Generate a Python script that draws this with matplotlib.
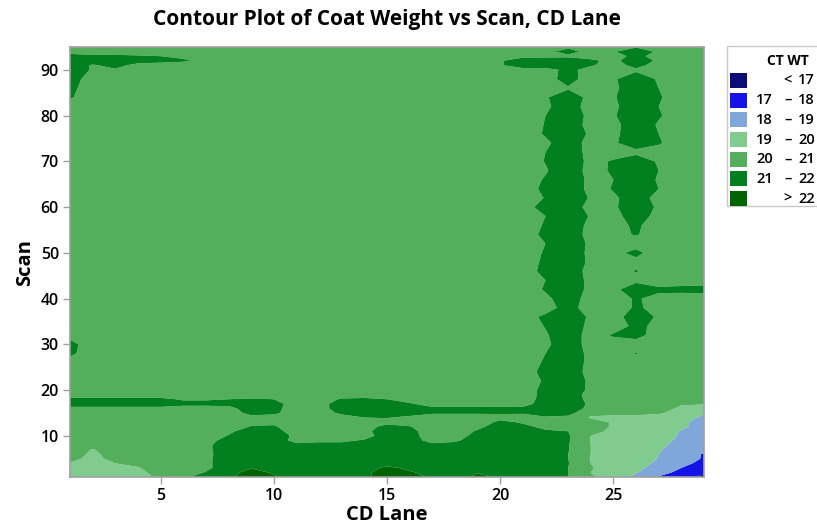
import numpy as np
import matplotlib
matplotlib.use("Agg")
import matplotlib.pyplot as plt
from matplotlib.patches import Rectangle

plt.rcParams['font.family'] = ['Open Sans', 'DejaVu Sans']

# -----------------------------
# Grid: CD lanes x scan rows
# -----------------------------
lanes = np.arange(1, 30)
scans = np.concatenate([np.arange(1, 21), np.arange(22, 91, 2), np.arange(91, 96)])

# scans 1..20, all 29 lanes
bottom_rows = [
    [19.4, 19.3, 19.5, 19.6, 20.2, 20.8, 21.5, 21.8, 22.5, 22.1, 21.7, 21.5, 21.6, 21.8, 22.5, 22.4, 21.8, 21.5, 22.3, 21.9, 21.6, 21.5, 21.0, 20.1, 19.6, 18.74, 17.92, 17.3, 16.8],
    [19.5, 19.4, 19.6, 19.8, 20.3, 20.5, 21.05, 21.7, 22.3, 21.9, 21.6, 21.5, 21.5, 21.8, 22.4, 22.1, 21.7, 21.5, 21.9, 21.7, 21.5, 21.5, 21.0, 20.0, 19.6, 19.05, 18.4, 17.7, 17.1],
    [19.7, 19.5, 19.8, 19.95, 20.4, 20.5, 20.8, 21.5, 21.95, 21.6, 21.5, 21.5, 21.5, 21.6, 22.2, 21.8, 21.5, 21.5, 21.6, 21.5, 21.5, 21.5, 21.0, 20.05, 19.7, 19.25, 18.6, 18.0, 17.5],
    [19.95, 19.6, 20.0, 20.2, 20.5, 20.5, 20.8, 21.5, 21.6, 21.5, 21.5, 21.5, 21.5, 21.5, 21.6, 21.5, 21.5, 21.5, 21.5, 21.5, 21.5, 21.5, 21.05, 20.0, 19.7, 19.4, 18.8, 18.3, 17.7],
    [20.3, 19.7, 20.3, 20.5, 20.5, 20.5, 20.8, 21.5, 21.5, 21.5, 21.5, 21.6, 21.5, 21.5, 21.5, 21.6, 21.5, 21.5, 21.5, 21.5, 21.5, 21.5, 21.0, 19.95, 19.6, 19.5, 18.95, 18.5, 17.9],
    [20.5, 19.8, 20.4, 20.5, 20.5, 20.5, 20.8, 21.4, 21.5, 21.5, 21.6, 21.5, 21.5, 21.5, 21.5, 21.5, 21.5, 21.5, 21.5, 21.5, 21.5, 21.5, 21.0, 20.0, 19.6, 19.5, 19.0, 18.6, 17.9],
    [20.5, 19.95, 20.5, 20.5, 20.5, 20.5, 20.8, 21.5, 21.5, 21.5, 21.5, 21.5, 21.5, 21.5, 21.5, 21.5, 21.5, 21.5, 21.5, 21.5, 21.5, 21.5, 21.05, 20.0, 19.6, 19.5, 19.05, 18.7, 18.4],
    [20.5, 20.3, 20.5, 20.5, 20.5, 20.5, 20.8, 21.5, 21.5, 21.5, 21.2, 21.3, 21.3, 21.5, 21.5, 21.5, 21.2, 21.2, 21.5, 21.5, 21.5, 21.5, 21.05, 20.0, 19.6, 19.5, 19.2, 18.7, 18.4],
    [20.5, 20.5, 20.5, 20.5, 20.5, 20.5, 20.6, 21.4, 21.5, 21.5, 20.7, 20.8, 20.8, 21.1, 21.5, 21.4, 20.7, 20.9, 21.3, 21.5, 21.5, 21.4, 21.1, 19.95, 19.6, 19.5, 19.3, 18.8, 18.5],
    [20.5, 20.5, 20.5, 20.5, 20.5, 20.5, 20.5, 21.05, 21.5, 21.5, 20.8, 20.5, 20.5, 20.6, 21.5, 21.3, 20.6, 20.6, 21.3, 21.5, 21.5, 21.3, 21.1, 20.0, 19.6, 19.5, 19.4, 18.9, 18.6],
    [20.5, 20.5, 20.5, 20.5, 20.5, 20.5, 20.5, 20.8, 21.5, 21.4, 20.5, 20.5, 20.5, 20.7, 21.6, 21.3, 20.5, 20.5, 21.1, 21.5, 21.4, 21.1, 21.0, 20.3, 19.8, 19.5, 19.4, 18.95, 18.7],
    [20.5, 20.5, 20.5, 20.5, 20.5, 20.5, 20.5, 20.5, 21.05, 21.1, 20.5, 20.5, 20.5, 20.6, 21.3, 21.05, 20.5, 20.5, 20.8, 21.4, 21.2, 20.8, 20.7, 20.4, 19.9, 19.6, 19.5, 19.1, 18.8],
    [20.5, 20.5, 20.5, 20.5, 20.5, 20.5, 20.5, 20.5, 20.8, 20.8, 20.5, 20.5, 20.5, 20.5, 20.7, 20.6, 20.5, 20.5, 20.5, 21.2, 20.9, 20.7, 20.6, 20.4, 19.9, 19.7, 19.6, 19.1, 18.8],
    [20.5, 20.5, 20.5, 20.5, 20.5, 20.5, 20.5, 20.5, 20.7, 20.6, 20.5, 20.5, 20.6, 21.0, 21.05, 20.8, 20.6, 20.6, 20.6, 20.7, 20.6, 20.9, 20.8, 19.9, 19.8, 19.8, 19.7, 19.2, 18.9],
    [20.5, 20.5, 20.5, 20.5, 20.5, 20.5, 20.5, 20.5, 21.3, 21.2, 20.5, 20.5, 21.2, 21.6, 21.5, 21.4, 21.1, 21.1, 21.1, 21.1, 21.1, 21.4, 21.3, 20.3, 20.2, 20.2, 20.1, 19.7, 19.05],
    [20.7, 20.7, 20.7, 20.7, 20.7, 20.6, 20.6, 20.7, 21.5, 21.3, 20.5, 20.6, 21.5, 21.6, 21.6, 21.4, 21.2, 21.2, 21.2, 21.2, 21.2, 21.5, 21.6, 20.7, 20.5, 20.5, 20.5, 19.8, 19.7],
    [21.6, 21.6, 21.6, 21.6, 21.6, 21.3, 21.3, 21.3, 21.5, 21.4, 20.5, 20.6, 21.5, 21.5, 21.4, 21.1, 20.6, 20.6, 20.6, 20.6, 20.6, 21.5, 21.7, 20.8, 20.5, 20.5, 20.5, 20.1, 20.05],
    [21.2, 21.2, 21.2, 21.2, 21.2, 20.9, 20.9, 21.0, 21.1, 21.0, 20.5, 20.5, 21.1, 21.2, 21.0, 20.6, 20.5, 20.5, 20.5, 20.5, 20.5, 21.4, 21.6, 20.7, 20.5, 20.5, 20.5, 20.5, 20.5],
    [20.5, 20.5, 20.5, 20.5, 20.5, 20.5, 20.5, 20.5, 20.5, 20.5, 20.5, 20.5, 20.5, 20.5, 20.5, 20.5, 20.5, 20.5, 20.5, 20.5, 20.5, 21.3, 21.6, 20.6, 20.5, 20.5, 20.5, 20.5, 20.5],
    [20.5, 20.5, 20.5, 20.5, 20.5, 20.5, 20.5, 20.5, 20.5, 20.5, 20.5, 20.5, 20.5, 20.5, 20.5, 20.5, 20.5, 20.5, 20.5, 20.5, 20.5, 21.3, 21.6, 20.8, 20.5, 20.5, 20.5, 20.5, 20.5],
]

# scans 22..90 (step 2): lanes 1, 2, 3 at the left edge
lane1_mid = [20.5, 20.5, 20.6, 21.2, 21.3, 20.7, 21.05, 20.5, 20.5, 20.5, 20.5, 20.5,
             20.5, 20.5, 20.5, 20.5, 20.5, 20.5, 20.5, 20.5, 20.5, 20.5, 20.5, 20.5,
             20.5, 20.5, 20.5, 20.5, 20.5, 20.5, 20.6, 21.1, 21.25, 21.4, 21.6]
lane2_mid = [20.5] * 33 + [20.6, 20.9]
lane3_mid = [20.5] * 34 + [20.9]

# scans 22..90 (step 2): lanes 21..29
right_mid = [
    [20.6, 21.1, 21.7, 20.8, 20.5, 20.5, 20.5, 20.5, 20.5],
    [20.7, 21.2, 21.7, 20.6, 20.5, 20.5, 20.5, 20.5, 20.5],
    [20.6, 21.1, 21.7, 20.7, 20.5, 20.5, 20.5, 20.5, 20.5],
    [20.6, 21.0, 21.7, 20.7, 20.5, 21.05, 20.5, 20.5, 20.5],
    [20.5, 20.8, 21.6, 20.6, 20.6, 20.6, 20.5, 20.5, 20.5],
    [20.5, 20.9, 21.6, 20.6, 21.1, 21.3, 20.6, 20.5, 20.5],
    [20.5, 21.05, 21.7, 20.7, 20.6, 21.2, 20.8, 20.5, 20.5],
    [20.6, 21.2, 21.8, 20.8, 20.7, 21.4, 20.9, 20.5, 20.5],
    [20.5, 20.6, 21.4, 20.5, 20.6, 21.1, 20.8, 20.5, 20.5],
    [20.5, 20.8, 21.5, 20.6, 20.6, 21.1, 20.7, 20.5, 20.5],
    [20.5, 21.1, 21.7, 20.7, 20.8, 21.5, 21.2, 21.3, 21.4],
    [20.5, 21.0, 21.7, 20.7, 20.6, 20.8, 20.5, 20.5, 20.5],
    [20.6, 21.25, 21.7, 20.6, 20.6, 21.05, 20.6, 20.5, 20.5],
    [20.5, 21.2, 21.7, 20.8, 20.6, 20.8, 20.5, 20.5, 20.5],
    [20.5, 21.1, 21.8, 20.7, 20.8, 21.2, 20.6, 20.5, 20.5],
    [20.5, 21.0, 21.7, 20.8, 20.6, 20.7, 20.5, 20.5, 20.5],
    [20.6, 21.2, 21.7, 20.6, 20.8, 21.05, 20.7, 20.5, 20.5],
    [20.5, 21.1, 21.7, 20.7, 20.8, 21.1, 20.7, 20.5, 20.5],
    [20.5, 21.0, 21.8, 20.9, 20.8, 21.3, 20.8, 20.5, 20.5],
    [20.7, 21.3, 21.7, 20.6, 20.9, 21.4, 20.9, 20.5, 20.5],
    [20.5, 21.05, 21.7, 20.9, 20.9, 21.3, 20.8, 20.5, 20.5],
    [20.6, 21.2, 21.7, 20.7, 21.05, 21.6, 21.0, 20.5, 20.5],
    [20.5, 21.1, 21.8, 20.7, 21.0, 21.6, 20.9, 20.5, 20.5],
    [20.5, 20.9, 21.7, 20.6, 21.15, 21.7, 21.0, 20.5, 20.5],
    [20.5, 21.05, 21.7, 20.7, 21.1, 21.5, 20.9, 20.5, 20.5],
    [20.5, 21.0, 21.7, 20.6, 20.6, 20.8, 20.6, 20.5, 20.5],
    [20.5, 20.8, 21.6, 20.6, 20.9, 21.4, 21.1, 20.5, 20.5],
    [20.5, 21.1, 21.8, 20.8, 20.8, 21.5, 21.0, 20.5, 20.5],
    [20.5, 21.05, 21.7, 20.6, 20.7, 21.6, 20.9, 20.5, 20.5],
    [20.5, 21.0, 21.7, 20.7, 20.9, 21.7, 21.1, 20.5, 20.5],
    [20.5, 20.8, 21.6, 20.5, 20.8, 21.6, 21.0, 20.5, 20.5],
    [20.5, 20.9, 21.6, 20.7, 20.9, 21.7, 21.1, 20.5, 20.5],
    [20.5, 20.6, 20.9, 20.5, 20.8, 21.6, 21.0, 20.5, 20.5],
    [20.5, 20.6, 21.4, 20.5, 20.9, 21.5, 20.9, 20.5, 20.5],
    [20.6, 20.6, 21.3, 20.6, 20.5, 20.85, 20.5, 20.5, 20.5],
]

# scans 91..95, all 29 lanes
top_rows = [
    [21.6, 20.9, 21.3, 20.7, 20.6, 20.5, 20.5, 20.5, 20.5, 20.5, 20.5, 20.5, 20.5, 20.5, 20.5, 20.5, 20.5, 20.5, 20.5, 20.9, 21.6, 21.6, 21.6, 21.1, 20.6, 21.3, 20.6, 20.5, 20.5],
    [21.5, 21.5, 21.5, 21.4, 21.3, 21.15, 20.7, 20.5, 20.5, 20.5, 20.5, 20.5, 20.5, 20.5, 20.5, 20.5, 20.5, 20.5, 20.5, 20.9, 21.6, 21.7, 21.6, 21.2, 20.7, 21.7, 20.8, 20.5, 20.5],
    [21.3, 21.2, 21.2, 21.1, 21.0, 20.8, 20.5, 20.5, 20.5, 20.5, 20.5, 20.5, 20.5, 20.5, 20.5, 20.5, 20.5, 20.5, 20.5, 20.6, 20.7, 20.7, 20.8, 20.6, 20.6, 21.3, 20.6, 20.5, 20.5],
    [20.7, 20.5, 20.5, 20.5, 20.5, 20.5, 20.5, 20.5, 20.5, 20.5, 20.5, 20.5, 20.5, 20.5, 20.5, 20.5, 20.5, 20.5, 20.5, 20.5, 20.5, 20.7, 21.4, 20.6, 20.9, 21.7, 20.8, 20.5, 20.5],
    [20.5, 20.5, 20.5, 20.5, 20.5, 20.5, 20.5, 20.5, 20.5, 20.5, 20.5, 20.5, 20.5, 20.5, 20.5, 20.5, 20.5, 20.5, 20.5, 20.5, 20.5, 20.5, 20.8, 20.5, 20.5, 20.9, 20.5, 20.5, 20.5],
]

base_level = 20.5  # most of the sheet sits in the 20-21 band

# assemble the grid
ct_wt = np.full((len(scans), len(lanes)), base_level)
ct_wt[:20, :] = bottom_rows
ct_wt[20:55, 0] = lane1_mid
ct_wt[20:55, 1] = lane2_mid
ct_wt[20:55, 2] = lane3_mid
ct_wt[20:55, 20:29] = right_mid
ct_wt[55:, :] = top_rows

# -----------------------------
# Contour levels / legend
# -----------------------------
level_bounds = [17, 18, 19, 20, 21, 22]
level_colors = ["#0c0c78", "#1414e6", "#7fa7da", "#80cc8f", "#53af5b", "#02801f", "#006400"]
legend_low = ["", "17", "18", "19", "20", "21", ""]
legend_mid = ["<", "\u2013", "\u2013", "\u2013", "\u2013", "\u2013", ">"]
legend_high = ["17", "18", "19", "20", "21", "22", "22"]

W, H = 817, 529
fig = plt.figure(figsize=(W / 100, H / 100), dpi=100)
ax = fig.add_axes([70 / W, 1 - 477 / H, 634 / W, 430 / H])

levels = [ct_wt.min() - 1] + level_bounds + [ct_wt.max() + 1]
ax.contourf(lanes, scans, ct_wt, levels=levels, colors=level_colors, antialiased=True)

ax.set_xlim(1, 29)
ax.set_ylim(1, 95)
ax.set_xticks([5, 10, 15, 20, 25])
ax.set_yticks([10, 20, 30, 40, 50, 60, 70, 80, 90])
for s in ax.spines.values():
    s.set_color("#a0a0a0")
    s.set_linewidth(1.2)
ax.tick_params(direction="out", length=5, width=1, color="#a0a0a0",
               labelsize=11.5, labelcolor="black", pad=3)
for lab in ax.get_xticklabels() + ax.get_yticklabels():
    lab.set_fontweight("semibold")

ax.set_xlabel("CD Lane", fontsize=14.5, fontweight="bold", labelpad=1)
ax.set_ylabel("Scan", fontsize=14.5, fontweight="bold", labelpad=4)
fig.text(387 / W, 1 - 20 / H, "Contour Plot of Coat Weight vs Scan, CD Lane",
         ha="center", va="center", fontsize=15, fontweight="bold")

# legend drawn by hand (it runs off the right edge like the original)
fig.patches.append(Rectangle((727 / W, 1 - 206 / H), 120 / W, 160 / H,
                             transform=fig.transFigure, facecolor="white",
                             edgecolor="#c8c8c8", linewidth=1))
fig.text(788 / W, 1 - 61 / H, "CT WT", ha="center", va="center",
         fontsize=10, fontweight="bold")
for i, c in enumerate(level_colors):
    top = 73 + i * 19.7
    fig.patches.append(Rectangle((730 / W, 1 - (top + 15) / H), 17 / W, 15 / H,
                                 transform=fig.transFigure, facecolor=c,
                                 edgecolor="none"))
    yc = 1 - (top + 7.5) / H
    fig.text(773 / W, yc, legend_low[i], ha="right", va="center", fontsize=10.5, fontweight="semibold")
    fig.text(788 / W, yc, legend_mid[i], ha="center", va="center", fontsize=10.5, fontweight="semibold")
    fig.text(815 / W, yc, legend_high[i], ha="right", va="center", fontsize=10.5, fontweight="semibold")

fig.savefig("out.png", dpi=100)
